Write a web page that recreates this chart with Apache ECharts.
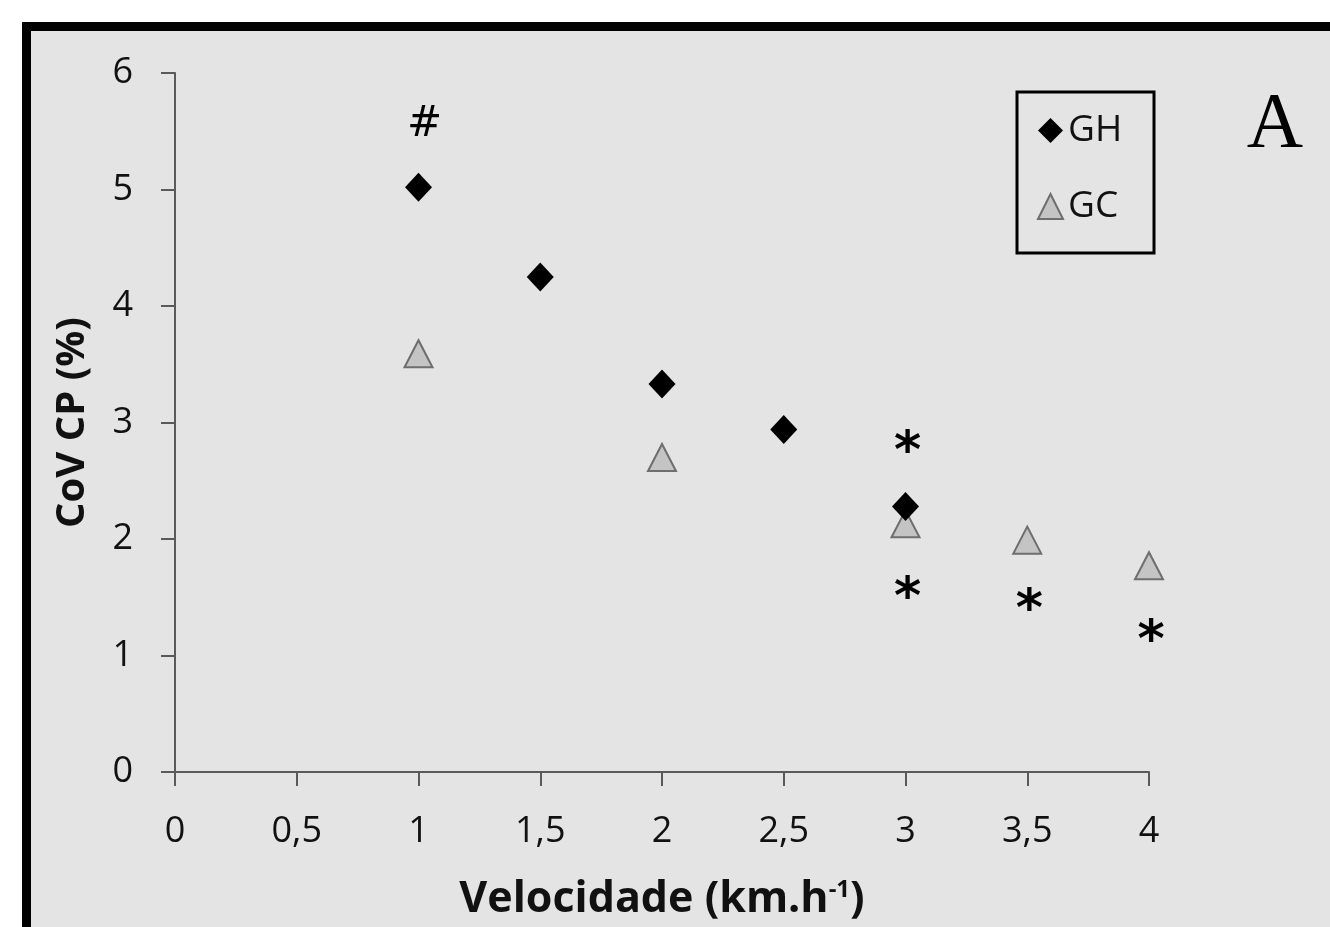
<!DOCTYPE html>
<html>
<head>
<meta charset="utf-8">
<script src="https://cdn.jsdelivr.net/npm/echarts@6/dist/echarts.min.js"></script>
<style>
  html, body { margin: 0; padding: 0; background: #ffffff; overflow: hidden; }
  #frame {
    position: absolute; left: 22px; top: 22px; width: 1400px; height: 1000px;
    border-left: 9px solid #000; border-top: 9px solid #000; background: #e4e4e4;
  }
  #chart { position: absolute; left: 0; top: 0; width: 1330px; height: 927px; }
</style>
</head>
<body>
<div id="frame"></div>
<div id="chart"></div>
<script>
// Velocidade (km/h) x CoV CP (%)
const SPEED_GH = [1, 1.5, 2, 2.5, 3];
const COV_GH   = [5.02, 4.25, 3.33, 2.94, 2.28];
const SPEED_GC = [1, 2, 3, 3.5, 4];
const COV_GC   = [3.59, 2.70, 2.13, 1.99, 1.77];

// marcas de significância (# e *)
const NOTE_X    = [1, 3, 3, 3.5, 4];
const NOTE_Y    = [5.57, 2.82, 1.57, 1.46, 1.20];
const NOTE_TEXT = ['#', '*', '*', '*', '*'];

const X_TICKS = { min: 0, max: 4, interval: 0.5 };
const Y_TICKS = { min: 0, max: 6, interval: 1 };

const FONT = '"Open Sans", "Liberation Sans", sans-serif';
const AXIS_COLOR = '#5a5a5a';

const chart = echarts.init(document.getElementById('chart'), null, { renderer: 'canvas' });

const pairs = (xs, ys) => xs.map((x, i) => [x, ys[i]]);

// "#" é mais fino que os asteriscos na figura original
const noteLabel = (t) => t === '#'
  ? { fontSize: 42, fontWeight: 'normal', offset: [6, 2] }
  : { fontSize: 52, fontWeight: 'bold', offset: [2, 10] };

chart.setOption({
  backgroundColor: 'transparent',
  animation: false,
  grid: { left: 175, right: 181, top: 73, bottom: 155, containLabel: false },
  xAxis: {
    type: 'value',
    ...X_TICKS,
    name: 'Velocidade (km.h{sup|-1})',
    nameLocation: 'middle',
    nameGap: 106,
    nameTextStyle: {
      fontFamily: FONT, fontSize: 43, fontWeight: 'bold', color: '#111',
      rich: { sup: { fontFamily: FONT, fontSize: 24, fontWeight: 'bold', color: '#111', verticalAlign: 'top', padding: [0, 0, 18, 0] } },
    },
    axisLine: { onZero: false, lineStyle: { color: AXIS_COLOR, width: 2 } },
    axisTick: { length: 14, lineStyle: { color: AXIS_COLOR, width: 2 } },
    axisLabel: {
      margin: 42, fontFamily: FONT, fontSize: 36, color: '#111',
      formatter: (v) => String(v).replace('.', ','),
    },
    splitLine: { show: false },
  },
  yAxis: {
    type: 'value',
    ...Y_TICKS,
    name: 'CoV CP (%)',
    nameLocation: 'middle',
    nameGap: 82,
    nameTextStyle: { fontFamily: FONT, fontSize: 40, fontWeight: 'bold', color: '#111' },
    axisLine: { show: true, lineStyle: { color: AXIS_COLOR, width: 2 } },
    axisTick: { show: true, length: 14, lineStyle: { color: AXIS_COLOR, width: 2 } },
    axisLabel: { margin: 42, fontFamily: FONT, fontSize: 36, color: '#111' },
    splitLine: { show: false },
  },
  legend: {
    data: ['GH', 'GC'],
    orient: 'vertical',
    left: 1037,
    top: 112,
    padding: 0,
    itemWidth: 25,
    itemHeight: 25,
    itemGap: 39,
    textStyle: { fontFamily: FONT, fontSize: 37, lineHeight: 36, color: '#111', padding: [0, 0, 0, 0] },
  },
  graphic: [
    { type: 'rect', shape: { x: 1017, y: 92, width: 137, height: 161 },
      style: { fill: 'none', stroke: '#000', lineWidth: 3 }, z: 10 },
    { type: 'text', x: 1275, y: 126,
      style: { text: 'A', font: '78px "Liberation Serif", serif', fill: '#000', textAlign: 'center', textVerticalAlign: 'middle' }, z: 10 },
  ],
  series: [
    {
      name: 'GC',
      type: 'scatter',
      symbol: 'triangle',
      symbolSize: [28, 27],
      itemStyle: { color: '#c4c4c4', borderColor: '#6e6e6e', borderWidth: 2, opacity: 1 },
      data: pairs(SPEED_GC, COV_GC),
      z: 2,
    },
    {
      name: 'GH',
      type: 'scatter',
      symbol: 'diamond',
      symbolSize: [27, 29],
      itemStyle: { color: '#000', opacity: 1 },
      data: pairs(SPEED_GH, COV_GH),
      z: 3,
    },
    {
      name: 'notes',
      type: 'scatter',
      symbolSize: 1,
      itemStyle: { color: 'transparent', opacity: 1 },
      silent: true,
      data: NOTE_X.map((x, i) => ({
        value: [x, NOTE_Y[i]],
        name: NOTE_TEXT[i],
        label: noteLabel(NOTE_TEXT[i]),
      })),
      label: {
        show: true,
        position: 'inside',
        formatter: (p) => p.name,
        fontFamily: '"DejaVu Sans", sans-serif',
        color: '#000',
        opacity: 1,
      },
      z: 4,
    },
  ],
});
</script>
</body>
</html>
